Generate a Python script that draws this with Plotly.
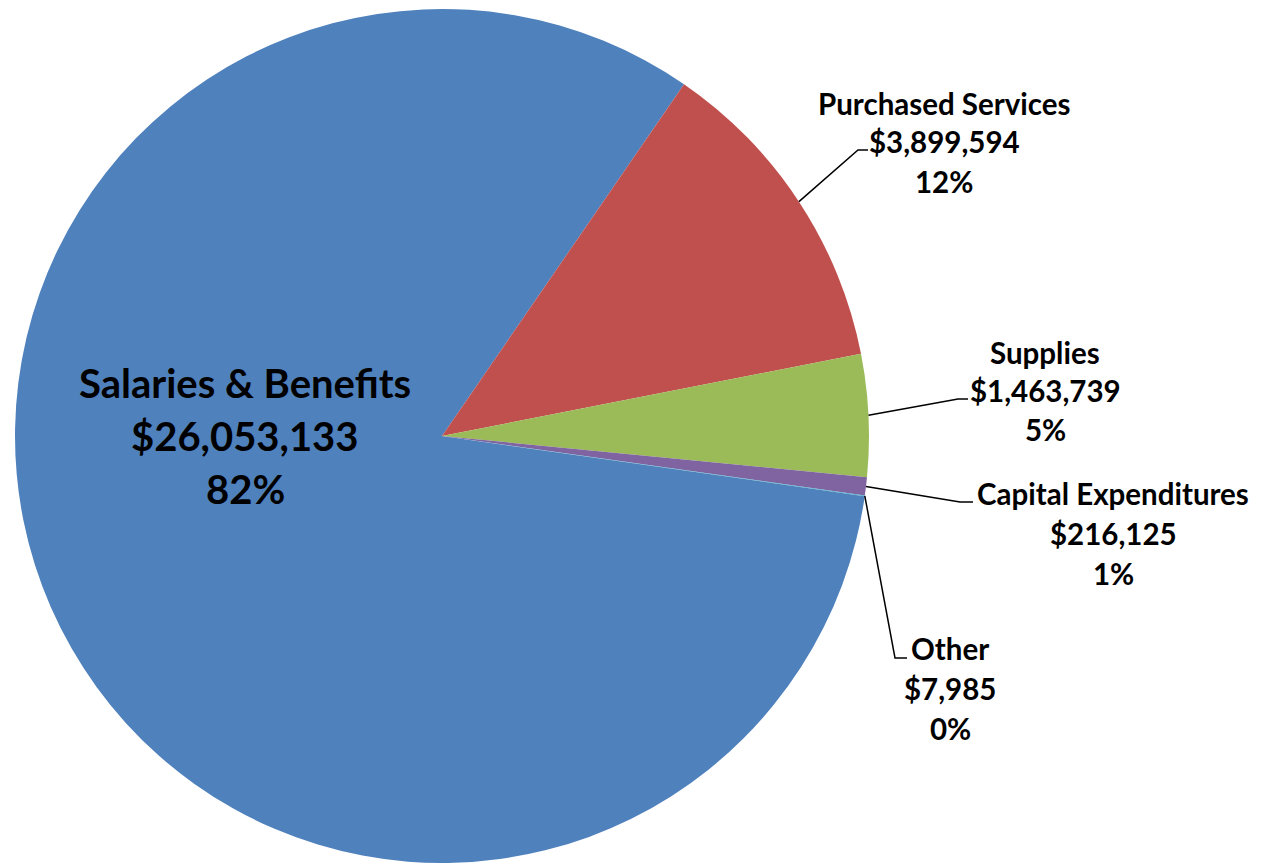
import math
import plotly.graph_objects as go

# ---- data ----
categories = ["Salaries & Benefits", "Purchased Services", "Supplies",
              "Capital Expenditures", "Other"]
amounts = [26053133, 3899594, 1463739, 216125, 7985]
colors = ["#4F81BD", "#C0504D", "#9BBB59", "#8064A2", "#4BACC6"]

W, H = 1264, 863
CX, CY, R = 442, 436, 427          # pie centre / radius in pixels
ROTATION = 98.1                    # start angle of first slice (deg, clockwise from 12 o'clock)

# label layout: (centre x, first line y, line spacing, font size)
label_pos = [
    (245, 383, 53, 40),
    (944, 103, 39, 29.5),
    (1045, 352, 39, 29.5),
    (1113, 493, 40, 29.5),
    (950, 648, 40, 29.5),
]
# leader-line elbow and end points (pixels); None = no leader
leaders = [
    None,
    ((858, 150), (868, 150)),
    ((958, 399), (968, 399)),
    ((960, 502), (973, 502)),
    ((895, 658), (907, 658)),
]

FONT = "Lato, 'Open Sans', sans-serif"


def px(x):
    return x / W


def py(y):
    return 1 - y / H


total = sum(amounts)

fig = go.Figure(go.Pie(
    labels=categories,
    values=amounts,
    marker=dict(colors=colors, line=dict(width=0)),
    sort=False,
    direction="clockwise",
    rotation=ROTATION,
    textinfo="none",
    textposition="none",
    hoverinfo="label+value+percent",
    showlegend=False,
    domain=dict(x=[px(CX - R), px(CX + R)], y=[py(CY + R), py(CY - R)]),
))

annotations = []
shapes = []
cum = 0
for i, (name, val) in enumerate(zip(categories, amounts)):
    frac = val / total
    mid = ROTATION + 360 * (cum + frac / 2)
    cum += frac
    pct = f"{round(frac * 100):d}%"
    lines = [name, f"${val:,}", pct]
    cx, y0, sp, fs = label_pos[i]
    for k, t in enumerate(lines):
        annotations.append(dict(
            x=px(cx), y=py(y0 + k * sp), xref="paper", yref="paper",
            text=f"<b>{t}</b>", showarrow=False, xanchor="center", yanchor="middle",
            font=dict(family=FONT, size=fs, color="#000000"),
        ))
    if leaders[i] is not None:
        a = math.radians(mid)
        ex = CX + R * math.sin(a)
        ey = CY - R * math.cos(a)
        (bx, by), (tx, ty) = leaders[i]
        path = (f"M {px(ex)} {py(ey)} L {px(bx)} {py(by)} L {px(tx)} {py(ty)}")
        shapes.append(dict(type="path", xref="paper", yref="paper", path=path,
                           line=dict(color="#000000", width=1.5)))

fig.update_layout(
    width=W, height=H,
    margin=dict(l=0, r=0, t=0, b=0),
    paper_bgcolor="white", plot_bgcolor="white",
    annotations=annotations,
    shapes=shapes,
)

fig.write_html("out.html")
